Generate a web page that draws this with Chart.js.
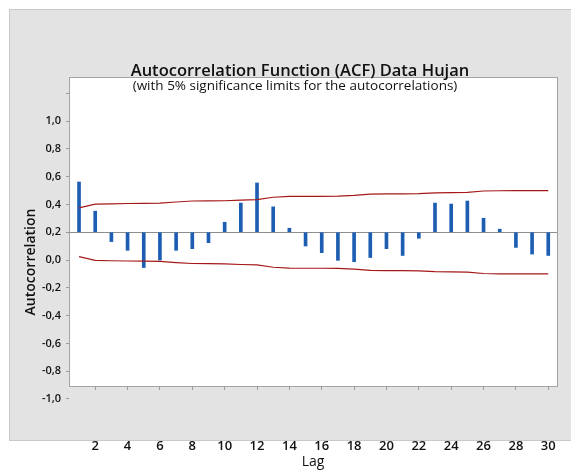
<!DOCTYPE html>
<html>
<head>
<meta charset="utf-8">
<script src="https://cdn.jsdelivr.net/npm/chart.js@4/dist/chart.umd.min.js"></script>
<style>
  html, body { margin: 0; padding: 0; background: #fff; }
</style>
</head>
<body>
<canvas id="acf-chart" width="571" height="470"></canvas>
<script>
// ACF data
const lags = [1, 2, 3, 4, 5, 6, 7, 8, 9, 10, 11, 12, 13, 14, 15, 16, 17, 18, 19, 20, 21, 22, 23, 24, 25, 26, 27, 28, 29, 30];
const acfValues = [0.562, 0.352, 0.133, 0.070, -0.054, 0.000, 0.070, 0.082, 0.125, 0.272, 0.410, 0.555, 0.383, 0.229, 0.101, 0.053, -0.002, -0.012, 0.018, 0.082, 0.033, 0.157, 0.410, 0.403, 0.425, 0.301, 0.222, 0.091, 0.043, 0.033];
const upperLimit = [0.376, 0.402, 0.405, 0.407, 0.408, 0.410, 0.418, 0.425, 0.426, 0.427, 0.432, 0.435, 0.452, 0.458, 0.459, 0.459, 0.460, 0.465, 0.475, 0.476, 0.476, 0.478, 0.484, 0.485, 0.487, 0.497, 0.499, 0.500, 0.500, 0.500];
const lowerLimit = [0.024, -0.002, -0.005, -0.007, -0.008, -0.010, -0.018, -0.025, -0.026, -0.027, -0.032, -0.035, -0.052, -0.058, -0.059, -0.059, -0.060, -0.065, -0.075, -0.076, -0.076, -0.078, -0.084, -0.085, -0.087, -0.097, -0.099, -0.100, -0.100, -0.100];
const baseLevel = 0.2;
const yTickValues = [1.2, 1.0, 0.8, 0.6, 0.4, 0.2, 0.0, -0.2, -0.4, -0.6, -0.8, -1.0];
const xTickValues = [2, 4, 6, 8, 10, 12, 14, 16, 18, 20, 22, 24, 26, 28, 30];

const FONT = "'Open Sans', 'Noto Sans', sans-serif";

// Gray frame, white panel and titles
const framePlugin = {
    id: 'frame',
    beforeDraw(chart) {
        const { ctx, chartArea: a } = chart;
        ctx.save();
        ctx.fillStyle = '#ffffff';
        ctx.fillRect(0, 0, chart.width, chart.height);
        ctx.fillStyle = '#e3e3e3';
        ctx.fillRect(9, 9, chart.width, 431);
        ctx.strokeStyle = '#c9c9c9';
        ctx.lineWidth = 1;
        ctx.strokeRect(9.5, 9.5, chart.width, 431);
        ctx.fillStyle = '#ffffff';
        ctx.fillRect(a.left, a.top, a.right - a.left, a.bottom - a.top);
        ctx.strokeStyle = '#a3a3a3';
        ctx.strokeRect(a.left + 0.5, a.top + 0.5, a.right - a.left, a.bottom - a.top);
        ctx.restore();
    },
    afterDraw(chart) {
        const { ctx } = chart;
        ctx.save();
        ctx.fillStyle = '#111';
        ctx.textAlign = 'center';
        ctx.textBaseline = 'alphabetic';
        ctx.font = `600 16.5px ${FONT}`;
        ctx.fillText('Autocorrelation Function (ACF) Data Hujan', 300, 76);
        ctx.font = `13.5px ${FONT}`;
        ctx.fillText('(with 5% significance limits for the autocorrelations)', 295, 90);
        ctx.translate(31, 262);
        ctx.rotate(-Math.PI / 2);
        ctx.textBaseline = 'middle';
        ctx.font = `600 14px ${FONT}`;
        ctx.fillText('Autocorrelation', 0, 0);
        ctx.restore();
    }
};

const ctx = document.getElementById('acf-chart').getContext('2d');
const acfChart = new Chart(ctx, {
    type: 'line',
    data: {
        datasets: [
            {
                type: 'bar',
                label: 'ACF',
                data: lags.map((l, i) => ({ x: l, y: acfValues[i] })),
                base: baseLevel,
                barThickness: 3,
                backgroundColor: '#1d5eb3',
                order: 1
            },
            {
                label: 'Upper limit',
                data: lags.map((l, i) => ({ x: l, y: upperLimit[i] })),
                borderColor: '#a51818',
                borderWidth: 1.2,
                pointRadius: 0,
                fill: false,
                tension: 0,
                order: 0
            },
            {
                label: 'Lower limit',
                data: lags.map((l, i) => ({ x: l, y: lowerLimit[i] })),
                borderColor: '#a51818',
                borderWidth: 1.2,
                pointRadius: 0,
                fill: false,
                tension: 0,
                order: 0
            }
        ]
    },
    options: {
        responsive: false,
        animation: false,
        devicePixelRatio: 1,
        layout: { padding: { left: 0, right: 14, top: 77, bottom: 0 } },
        plugins: {
            legend: { display: false },
            tooltip: { enabled: false }
        },
        scales: {
            x: {
                type: 'linear',
                min: 0.38,
                max: 30.54,
                offset: false,
                afterBuildTicks: scale => { scale.ticks = xTickValues.map(v => ({ value: v })); },
                afterFit: scale => {
                    scale.height = 84;
                    // the big label gap should not eat into the plot width
                    scale.paddingLeft = 0;
                    scale.paddingRight = 0;
                },
                grid: { offset: false, drawOnChartArea: false, color: '#9a9a9a', tickColor: '#9a9a9a', tickLength: 4 },
                border: { display: false },
                ticks: { padding: 48, autoSkip: false, maxRotation: 0, color: '#111', font: { family: FONT, size: 13, weight: 600 } },
                title: { display: true, text: 'Lag', color: '#111', padding: 0, font: { family: FONT, size: 14, weight: 500 } }
            },
            y: {
                min: -0.907,
                max: 1.318,
                afterBuildTicks: scale => { scale.ticks = yTickValues.map(v => ({ value: v })); },
                afterFit: scale => { scale.width = 69; },
                grid: {
                    color: c => (c.tick && Math.abs(c.tick.value - baseLevel) < 1e-6) ? '#8e8e8e' : 'transparent',
                    tickColor: '#9a9a9a',
                    tickLength: 3
                },
                border: { display: false },
                ticks: {
                    padding: 5,
                    autoSkip: false,
                    color: '#111',
                    font: { family: FONT, size: 11, weight: 600 },
                    callback: v => Math.abs(v - 1.2) < 1e-6 ? '' : v.toFixed(1).replace('.', ',')
                }
            }
        }
    },
    plugins: [framePlugin]
});
</script>
</body>
</html>
